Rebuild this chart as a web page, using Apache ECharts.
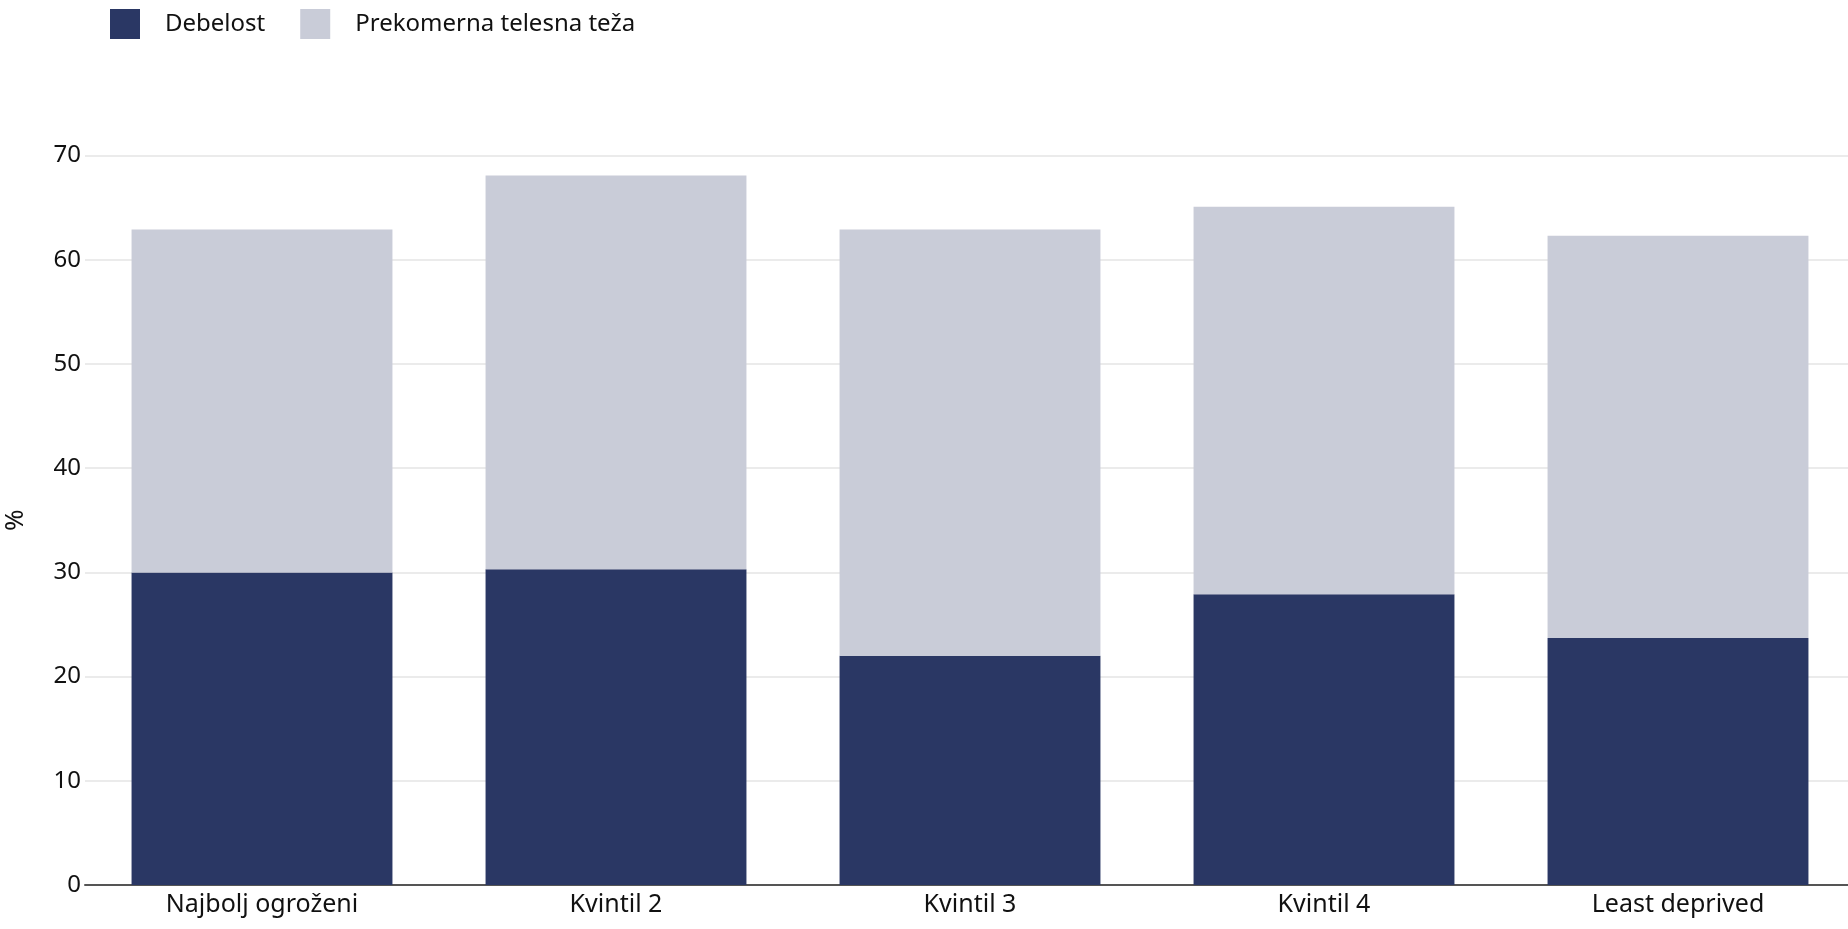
<!DOCTYPE html>
<html>
<head>
<meta charset="utf-8">
<script src="https://cdn.jsdelivr.net/npm/echarts@6/dist/echarts.min.js"></script>
<style>
html,body{margin:0;padding:0;background:#fff;}
#c{width:1848px;height:929px;}
</style>
</head>
<body>
<div id="c"></div>
<script>
const categories = ['Najbolj ogroženi', 'Kvintil 2', 'Kvintil 3', 'Kvintil 4', 'Least deprived'];
const debelost = [30.0, 30.3, 22.0, 27.9, 23.7];
const prekomerna = [32.9, 37.8, 40.9, 37.2, 38.6];
const seriesNames = ['Debelost', 'Prekomerna telesna teža'];
const yTicks = [0, 10, 20, 30, 40, 50, 60, 70];

const FONT = 'Noto Sans';
const chart = echarts.init(document.getElementById('c'));
chart.setOption({
  animation: false,
  textStyle: { fontFamily: FONT },
  legend: {
    left: 105, top: 4,
    itemWidth: 30, itemHeight: 30, itemGap: 35,
    icon: 'rect',
    textStyle: { fontFamily: FONT, fontSize: 24, color: '#111', padding: [0, 0, 0, 20] },
    data: seriesNames
  },
  grid: { left: 85, top: 155.6, width: 1770, height: 729.4, containLabel: false, outerBoundsMode: 'none' },
  xAxis: {
    type: 'category',
    data: categories,
    axisLine: { show: true, lineStyle: { color: '#555', width: 2 } },
    axisTick: { show: false },
    axisLabel: { fontFamily: FONT, fontSize: 25, color: '#111', margin: 7 }
  },
  yAxis: {
    type: 'value',
    min: yTicks[0], max: yTicks[yTicks.length - 1], interval: 10,
    name: '%',
    nameLocation: 'middle',
    nameGap: 56,
    nameRotate: 90,
    nameTextStyle: { fontFamily: FONT, fontSize: 26, color: '#111' },
    axisLine: { show: false },
    axisTick: { show: false },
    axisLabel: { fontFamily: FONT, fontSize: 24, color: '#111', margin: 4 },
    splitLine: { lineStyle: { color: '#ebebeb', width: 2 } }
  },
  series: [
    {
      name: seriesNames[0], type: 'bar', stack: 'a',
      data: debelost, barCategoryGap: '26.3%',
      itemStyle: { color: '#2a3764' }
    },
    {
      name: seriesNames[1], type: 'bar', stack: 'a',
      data: prekomerna, barCategoryGap: '26.3%',
      itemStyle: { color: '#c9ccd8' }
    }
  ]
});
</script>
</body>
</html>
